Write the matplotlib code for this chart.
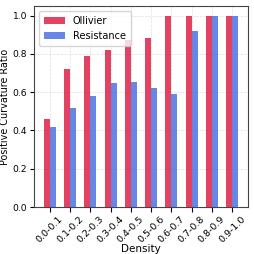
import numpy as np
import matplotlib.pyplot as plt

# density bins and ratios
bins = ['0.0-0.1', '0.1-0.2', '0.2-0.3', '0.3-0.4', '0.4-0.5',
        '0.5-0.6', '0.6-0.7', '0.7-0.8', '0.8-0.9', '0.9-1.0']
ollivier = [0.46, 0.72, 0.79, 0.82, 0.875, 0.885, 1.0, 1.0, 1.0, 1.0]
resistance = [0.42, 0.52, 0.58, 0.65, 0.655, 0.62, 0.59, 0.92, 1.0, 1.0]

plt.rcParams['font.size'] = 6.6

fig, ax = plt.subplots(figsize=(2.54, 2.54), dpi=100)
x = np.arange(len(bins))
w = 0.3
ax.bar(x - w / 2, ollivier, w, color='crimson', alpha=0.8, label='Ollivier', zorder=3)
ax.bar(x + w / 2, resistance, w, color='royalblue', alpha=0.8, label='Resistance', zorder=3)

ax.set_xticks(x)
ax.set_xticklabels(bins, rotation=45, fontsize=6.8)
ax.tick_params(axis='x', pad=1.5)
ax.tick_params(axis='y', pad=2, length=3)
ax.set_xlabel('Density', labelpad=0, fontsize=7.5)
ax.set_ylabel('Positive Curvature Ratio', labelpad=1.5, fontsize=6.9)
ax.set_ylim(0, 1.05)
ax.grid(True, linestyle='--', alpha=0.4, linewidth=0.5, zorder=0)
ax.legend(loc='upper left', handlelength=2.2, fontsize=7, borderpad=0.5)
for s in ax.spines.values():
    s.set_color('#444444')

fig.subplots_adjust(left=0.134, right=0.976, top=0.976, bottom=0.185)
fig.savefig('out.png', dpi=100)
